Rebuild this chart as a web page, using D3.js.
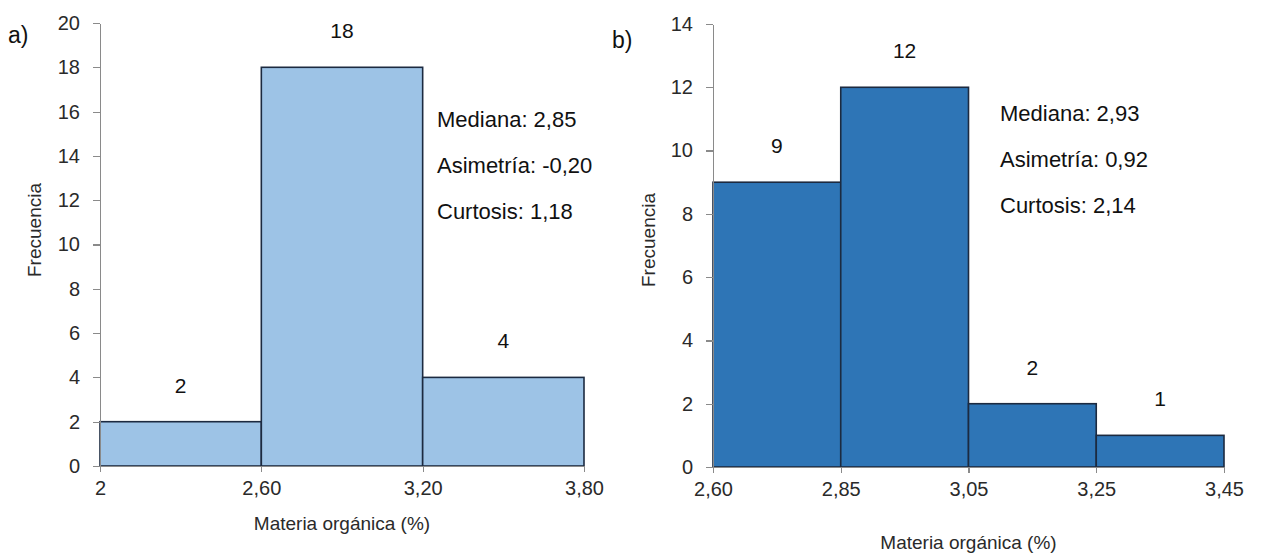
<!DOCTYPE html>
<html>
<head>
<meta charset="utf-8">
<script src="https://cdn.jsdelivr.net/npm/d3@7/dist/d3.min.js"></script>
<style>
  html, body { margin: 0; padding: 0; background: #ffffff; }
  svg { display: block; }
  .tick text { font-family: "Liberation Sans", Arial, sans-serif; fill: #2a2a2a; }
  .axis path, .axis line { stroke: #8a8a8a; stroke-width: 1.2; shape-rendering: crispEdges; }
</style>
</head>
<body>
<svg id="chart" width="1265" height="555"></svg>
<script>
// Panel a) — organic matter histogram
const edgesA  = ["2", "2,60", "3,20", "3,80"];
const countsA = [2, 18, 4];
const yTicksA = [0, 2, 4, 6, 8, 10, 12, 14, 16, 18, 20];
const statsA  = ["Mediana: 2,85", "Asimetría: -0,20", "Curtosis: 1,18"];

// Panel b) — organic matter histogram
const edgesB  = ["2,60", "2,85", "3,05", "3,25", "3,45"];
const countsB = [9, 12, 2, 1];
const yTicksB = [0, 2, 4, 6, 8, 10, 12, 14];
const statsB  = ["Mediana: 2,93", "Asimetría: 0,92", "Curtosis: 2,14"];

const xTitle = "Materia orgánica (%)";
const yTitle = "Frecuencia";

const svg = d3.select("#chart");

function panel(cfg) {
  const g = svg.append("g");
  const x = d3.scalePoint().domain(cfg.edges).range([cfg.left, cfg.right]);
  const y = d3.scaleLinear().domain([0, d3.max(cfg.yTicks)]).range([cfg.bottom, cfg.top]);

  const bins = cfg.counts.map((c, i) => ({ x0: cfg.edges[i], x1: cfg.edges[i + 1], c }));

  // histogram bars
  g.selectAll("rect.bar").data(bins).enter().append("rect")
    .attr("class", "bar")
    .attr("x", d => x(d.x0))
    .attr("width", d => x(d.x1) - x(d.x0))
    .attr("y", d => y(d.c))
    .attr("height", d => y(0) - y(d.c))
    .attr("fill", cfg.fill)
    .attr("stroke", "#1c2a40")
    .attr("stroke-width", 1.6);

  // count labels above each bar
  g.selectAll("text.count").data(bins).enter().append("text")
    .attr("class", "count")
    .attr("x", d => (x(d.x0) + x(d.x1)) / 2)
    .attr("y", d => y(d.c) - 29)
    .attr("text-anchor", "middle")
    .style("font-family", "'Liberation Sans', Arial, sans-serif")
    .style("font-size", "21px")
    .attr("fill", "#111")
    .text(d => d.c);

  // axes
  const yAxis = d3.axisLeft(y).tickValues(cfg.yTicks).tickSize(7).tickSizeOuter(0).tickPadding(13)
    .tickFormat(d => d);
  g.append("g").attr("class", "axis").attr("transform", `translate(${cfg.left},0)`).call(yAxis)
    .selectAll("text").style("font-size", "20px");

  const xAxis = d3.axisBottom(x).tickSize(6).tickSizeOuter(0).tickPadding(9);
  g.append("g").attr("class", "axis").attr("transform", `translate(0,${cfg.bottom})`).call(xAxis)
    .selectAll("text").style("font-size", "20px");

  // axis titles
  g.append("text")
    .attr("x", (cfg.left + cfg.right) / 2)
    .attr("y", cfg.bottom + cfg.xTitleGap)
    .attr("text-anchor", "middle")
    .style("font-family", "'Liberation Sans', Arial, sans-serif")
    .style("font-size", "19px")
    .attr("fill", "#2a2a2a")
    .text(xTitle);

  g.append("text")
    .attr("transform", `translate(${cfg.yTitleX},${cfg.yTitleY}) rotate(-90)`)
    .attr("text-anchor", "middle")
    .style("font-family", "'Liberation Sans', Arial, sans-serif")
    .style("font-size", "19px")
    .attr("fill", "#2a2a2a")
    .text(yTitle);

  // panel letter
  g.append("text")
    .attr("x", cfg.letterX).attr("y", cfg.letterY)
    .style("font-family", "'Liberation Sans', Arial, sans-serif")
    .style("font-size", "23px")
    .attr("fill", "#111")
    .text(cfg.letter);

  // summary statistics
  g.selectAll("text.stat").data(cfg.stats).enter().append("text")
    .attr("class", "stat")
    .attr("x", cfg.statsX)
    .attr("y", (d, i) => cfg.statsY + i * 46)
    .style("font-family", "'Liberation Sans', Arial, sans-serif")
    .style("font-size", "22px")
    .attr("fill", "#111")
    .text(d => d);
}

panel({
  edges: edgesA, counts: countsA, yTicks: yTicksA, stats: statsA,
  left: 100, right: 584, top: 23, bottom: 466,
  fill: "#9dc3e6", letter: "a)", letterX: 8, letterY: 43,
  statsX: 437, statsY: 127, yTitleX: 41, yTitleY: 230, xTitleGap: 64
});

panel({
  edges: edgesB, counts: countsB, yTicks: yTicksB, stats: statsB,
  left: 713, right: 1224, top: 24, bottom: 467,
  fill: "#2e75b6", letter: "b)", letterX: 612, letterY: 48,
  statsX: 1000, statsY: 121, yTitleX: 655, yTitleY: 240, xTitleGap: 82
});
</script>
</body>
</html>
